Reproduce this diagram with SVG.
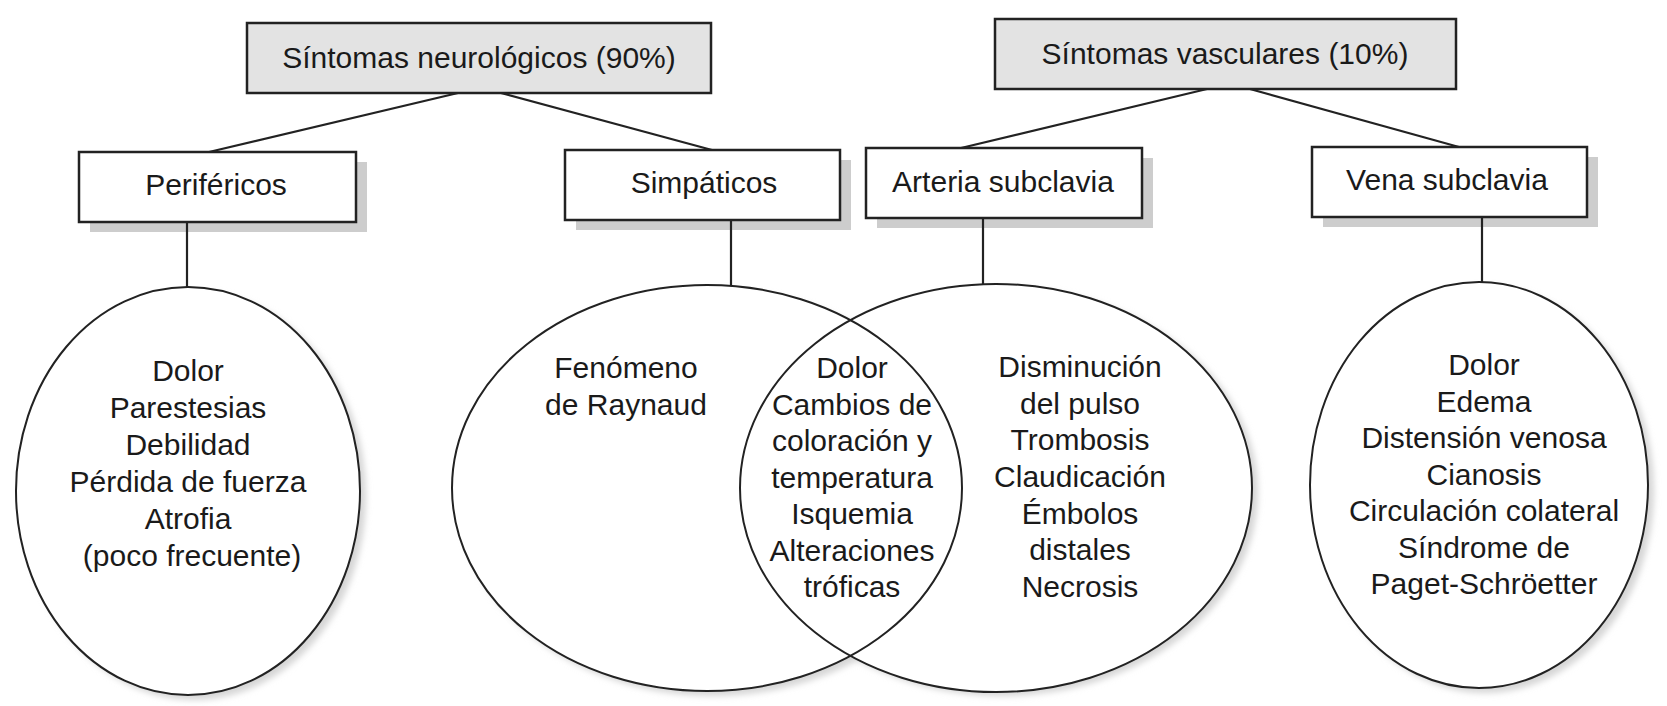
<svg xmlns="http://www.w3.org/2000/svg" width="1667" height="706" viewBox="0 0 1667 706">
<defs>
<filter id="blur" x="-10%" y="-10%" width="120%" height="120%"><feGaussianBlur stdDeviation="3"/></filter>
</defs>
<style>
text{font-family:"Liberation Sans",Arial,sans-serif;font-size:30px;fill:#1a1a1a;text-anchor:middle}
.top{fill:#e3e3e3;stroke:#222;stroke-width:2.5}
.box{fill:#fff;stroke:#222;stroke-width:2.5}
.shadow{fill:#cdcdcd}
.eshadow{fill:#d6d6d6;filter:url(#blur)}
.efill{fill:#fff}
.estroke{fill:none;stroke:#222;stroke-width:2}
.conn line{stroke:#222;stroke-width:2.2}
</style>
<rect width="1667" height="706" fill="#fff"/>

<g id="shadows">
<rect class="shadow" x="90" y="162" width="277" height="70"/>
<rect class="shadow" x="576" y="160" width="275" height="70"/>
<rect class="shadow" x="877" y="158" width="276" height="70"/>
<rect class="shadow" x="1323" y="157" width="275" height="70"/>
<ellipse class="eshadow" cx="194" cy="496" rx="172" ry="204"/>
<ellipse class="eshadow" cx="713" cy="493" rx="255" ry="203"/>
<ellipse class="eshadow" cx="1002" cy="492" rx="256" ry="204"/>
<ellipse class="eshadow" cx="1485" cy="490" rx="169" ry="203"/>
</g>

<g id="ellipse-fills">
<ellipse class="efill" cx="188" cy="491" rx="172" ry="204"/>
<ellipse class="efill" cx="707" cy="488" rx="255" ry="203"/>
<ellipse class="efill" cx="996" cy="488" rx="256" ry="204"/>
<ellipse class="efill" cx="1479" cy="485" rx="169" ry="203"/>
</g>

<g class="conn" id="connectors">
<line x1="458" y1="93" x2="209" y2="152"/>
<line x1="501" y1="93" x2="712" y2="150"/>
<line x1="1207" y1="89" x2="961" y2="148"/>
<line x1="1250" y1="89" x2="1459" y2="147"/>
<line x1="187" y1="222" x2="187" y2="287"/>
<line x1="731" y1="220" x2="731" y2="285"/>
<line x1="983" y1="218" x2="983" y2="284"/>
<line x1="1482" y1="217" x2="1482" y2="282"/>
</g>

<g id="neuro">
<rect class="top" x="247" y="23" width="464" height="70"/>
<text x="479" y="68">Síntomas neurológicos (90%)</text>
</g>
<g id="vascular">
<rect class="top" x="995" y="19" width="461" height="70"/>
<text x="1225" y="64">Síntomas vasculares (10%)</text>
</g>
<g id="perifericos">
<rect class="box" x="79" y="152" width="277" height="70"/>
<text x="216" y="195">Periféricos</text>
</g>
<g id="simpaticos">
<rect class="box" x="565" y="150" width="275" height="70"/>
<text x="704" y="193">Simpáticos</text>
</g>
<g id="arteria">
<rect class="box" x="866" y="148" width="276" height="70"/>
<text x="1003" y="192">Arteria subclavia</text>
</g>
<g id="vena">
<rect class="box" x="1312" y="147" width="275" height="70"/>
<text x="1447" y="190">Vena subclavia</text>
</g>

<g id="ellipse-neuro-perifericos">
<ellipse class="estroke" cx="188" cy="491" rx="172" ry="204"/>
<text x="188" y="381">Dolor</text>
<text x="188" y="418">Parestesias</text>
<text x="188" y="455">Debilidad</text>
<text x="188" y="492">Pérdida de fuerza</text>
<text x="188" y="529">Atrofia</text>
<text x="192" y="566">(poco frecuente)</text>
</g>

<g id="ellipse-simpaticos">
<ellipse class="estroke" cx="707" cy="488" rx="255" ry="203"/>
<text x="626" y="378">Fenómeno</text>
<text x="626" y="415">de Raynaud</text>
</g>

<g id="ellipse-arteria">
<ellipse class="estroke" cx="996" cy="488" rx="256" ry="204"/>
<text x="1080" y="377">Disminución</text>
<text x="1080" y="413.7">del pulso</text>
<text x="1080" y="450.3">Trombosis</text>
<text x="1080" y="487">Claudicación</text>
<text x="1080" y="523.7">Émbolos</text>
<text x="1080" y="560.3">distales</text>
<text x="1080" y="597">Necrosis</text>
</g>

<g id="overlap">
<text x="852" y="378">Dolor</text>
<text x="852" y="414.5">Cambios de</text>
<text x="852" y="451">coloración y</text>
<text x="852" y="487.5">temperatura</text>
<text x="852" y="524">Isquemia</text>
<text x="852" y="560.5">Alteraciones</text>
<text x="852" y="597">tróficas</text>
</g>

<g id="ellipse-vena">
<ellipse class="estroke" cx="1479" cy="485" rx="169" ry="203"/>
<text x="1484" y="375">Dolor</text>
<text x="1484" y="411.5">Edema</text>
<text x="1484" y="448">Distensión venosa</text>
<text x="1484" y="484.5">Cianosis</text>
<text x="1484" y="521">Circulación colateral</text>
<text x="1484" y="557.5">Síndrome de</text>
<text x="1484" y="594">Paget-Schröetter</text>
</g>
</svg>
